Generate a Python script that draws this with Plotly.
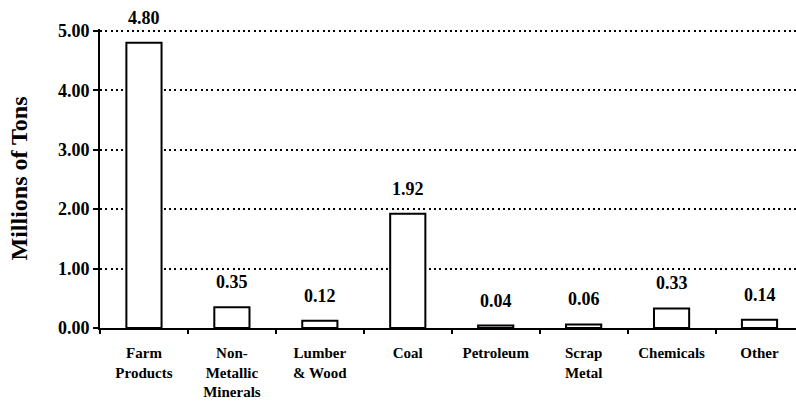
import plotly.graph_objects as go

categories = ["Farm<br>Products", "Non-<br>Metallic<br>Minerals", "Lumber<br>& Wood", "Coal",
              "Petroleum", "Scrap<br>Metal", "Chemicals", "Other"]
tons_millions = [4.80, 0.35, 0.12, 1.92, 0.04, 0.06, 0.33, 0.14]
y_ticks = [0, 1, 2, 3, 4, 5]
y_tick_labels = ["0.00", "1.00", "2.00", "3.00", "4.00", "5.00"]

SERIF = "Liberation Serif"

fig = go.Figure()
fig.add_trace(go.Bar(
    x=categories,
    y=tons_millions,
    marker=dict(color="white", line=dict(color="black", width=2)),
    hoverinfo="skip",
))

# value labels above each bar
for cat, val in zip(categories, tons_millions):
    fig.add_annotation(
        x=cat, y=val, text=f"{val:.2f}", showarrow=False,
        yanchor="bottom", yshift=13,
        font=dict(family=SERIF, size=18, color="black", weight="bold"),
    )

fig.update_layout(
    width=796, height=403,
    margin=dict(l=100, r=0, t=29, b=75),
    paper_bgcolor="white", plot_bgcolor="white",
    bargap=0.6,
    showlegend=False,
)
fig.update_xaxes(
    type="category",
    range=[-0.5, 7.415],
    tickson="boundaries",
    ticks="outside", ticklen=4, tickwidth=1.5, tickcolor="black",
    ticklabelstandoff=10,
    showline=True, linecolor="black", linewidth=2,
    showgrid=False,
    tickfont=dict(family=SERIF, size=15, color="black", weight="bold"),
)
# a little headroom above 5.00 so its dotted gridline is kept
fig.update_yaxes(
    range=[0, 5.03],
    tickvals=y_ticks, ticktext=y_tick_labels,
    ticks="outside", ticklen=5, tickwidth=1.5, tickcolor="black",
    showline=True, linecolor="black", linewidth=2,
    showgrid=True, gridcolor="black", gridwidth=1.8, griddash="2px,3.3px",
    zeroline=False,
    tickfont=dict(family=SERIF, size=18, color="black", weight="bold"),
    title=dict(text="Millions of Tons", standoff=24,
               font=dict(family=SERIF, size=24, color="black", weight="bold")),
)

fig.write_html("out.html")
